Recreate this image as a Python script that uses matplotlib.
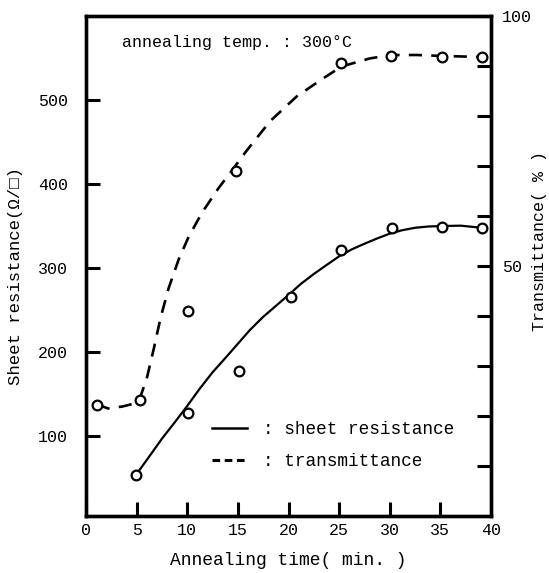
import matplotlib
matplotlib.use("Agg")
import matplotlib.pyplot as plt
from matplotlib.lines import Line2D

plt.rcParams['font.family'] = ['Liberation Mono', 'DejaVu Sans Mono']

# ---- data ----
# measured points: sheet resistance (left axis, ohm/sq)
sr_time = [4.94, 10.1, 15.1, 20.2, 25.2, 30.2, 35.2, 39.1]
sr_value = [54, 128, 177, 266, 322, 348, 349, 348]
# measured points: transmittance (right axis, %)
tr_time = [1.1, 5.3, 10.1, 14.8, 25.2, 30.1, 35.2, 39.1]
tr_value = [22.3, 23.3, 41.0, 69.1, 90.7, 92.0, 91.8, 91.8]

# fitted curves (knots)
sr_curve_t = [4.94, 6.2, 7.5, 8.8, 10.0, 11.2, 12.5, 13.8, 15.0, 16.2, 17.5, 18.8, 20.0,
              21.2, 22.5, 23.8, 25.0, 26.2, 27.5, 28.8, 30.0, 31.2, 32.5, 33.8, 35.0,
              37.0, 39.1]
sr_curve_v = [54, 75, 97, 117, 136, 156, 176, 193.5, 210, 226.5, 242, 255.5, 268,
              281, 293, 304, 314, 322, 329, 335.5, 341, 345, 348, 349.5, 350,
              350.5, 348]
tr_curve_t = [1.1, 2.2, 3.6, 4.6, 5.26, 6.0, 6.7, 7.35, 8.15, 9.15, 10.15, 11.5, 13.1, 14.3,
              15.8, 18.2, 20.8, 23.4, 25.25, 28.0, 30.1, 32.7, 35.3, 39.1]
tr_curve_v = [22.3, 21.5, 21.9, 22.4, 23.2, 27.5, 33.5, 39.5, 45.5, 51.3, 55.9, 60.8, 65.6, 68.8,
              72.9, 79.0, 83.9, 87.5, 89.9, 91.5, 92.2, 92.2, 92.0, 91.8]

x_ticks = [0, 5, 10, 15, 20, 25, 30, 35, 40]
left_ticks = [100, 200, 300, 400, 500]
right_ticks = [10, 20, 30, 40, 50, 60, 70, 80, 90, 100]
right_labels = ['', '', '', '', '50', '', '', '', '', '100']

fig = plt.figure(figsize=(5.49, 5.73), dpi=100)
ax = fig.add_axes([86 / 549, 1 - 516 / 573, 405 / 549, 500 / 573])
ax2 = ax.twinx()

ax.set_xlim(0, 40)
ax.set_ylim(5, 600)
ax2.set_ylim(0, 100)

# sheet resistance
ax.plot(sr_curve_t, sr_curve_v, color='black', lw=1.6, solid_capstyle='round',
        solid_joinstyle='round')
ax.plot(sr_time, sr_value, 'o', ms=7, mfc='white', mec='black', mew=1.6, zorder=5)

# transmittance
l2, = ax2.plot(tr_curve_t, tr_curve_v, color='black', lw=1.9)
l2.set_dashes([5, 3.5])
ax2.plot(tr_time, tr_value, 'o', ms=7, mfc='white', mec='black', mew=1.6, zorder=5)

fs = 12
ax.set_xticks(x_ticks)
ax.set_xticklabels([str(t) for t in x_ticks], fontsize=fs)
ax.set_yticks(left_ticks)
ax.set_yticklabels([str(t) for t in left_ticks], fontsize=fs)
ax2.set_yticks(right_ticks)
ax2.set_yticklabels(right_labels, fontsize=fs)

ax.tick_params(axis='x', direction='in', length=10, width=2.2, pad=5, top=False)
ax.tick_params(axis='y', direction='in', length=10, width=2.2, pad=13)
ax2.tick_params(axis='y', direction='in', length=10, width=2.2, pad=8)

for a in (ax, ax2):
    for s in a.spines.values():
        s.set_linewidth(2.4)

ax.set_xlabel('Annealing time( min. )', fontsize=13, labelpad=10)
ax.set_ylabel('Sheet resistance(Ω/□)', fontsize=12.5)
ax.yaxis.set_label_coords(-0.155, 0.48)
ax2.set_ylabel('Transmittance( % )', fontsize=12)
ax2.yaxis.set_label_coords(1.10, 0.55)

ax.text(0.089, 0.946, 'annealing temp. : 300°C', transform=ax.transAxes,
        fontsize=12, va='center', ha='left')

h1 = Line2D([], [], color='black', lw=1.8)
h2 = Line2D([], [], color='black', lw=2.2, dashes=[2.5, 1.5])
ax.legend([h1, h2], [': sheet resistance', ': transmittance'],
          loc='upper left', bbox_to_anchor=(0.31, 0.19), frameon=False,
          fontsize=12.8, handlelength=2.0, handletextpad=0.9,
          labelspacing=0.85, borderpad=0, borderaxespad=0)

fig.savefig('out.png', dpi=100)
